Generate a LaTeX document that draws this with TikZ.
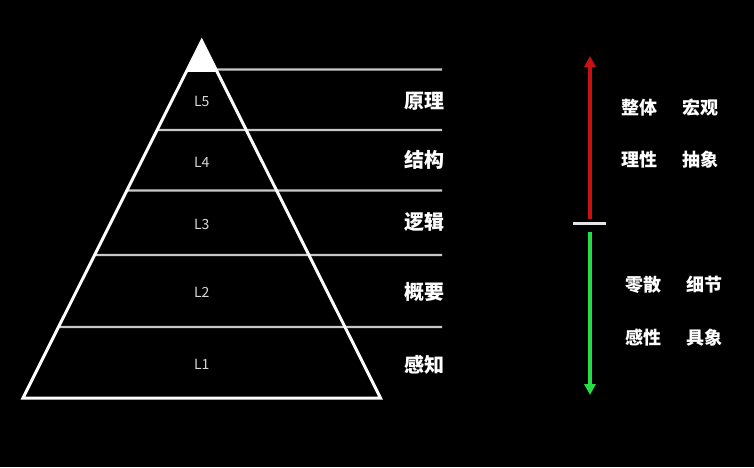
\documentclass[tikz,border=0pt]{standalone}
\usepackage{fontspec}
\newfontfamily\cjk{Noto Sans CJK SC}
\usetikzlibrary{calc,arrows.meta}
\definecolor{arrred}{RGB}{200,18,18}
\definecolor{arrgreen}{RGB}{40,220,70}
\definecolor{linegray}{RGB}{200,200,200}
\tikzset{
  edge/.style={draw=white,line width=3pt,line join=miter},
  divider/.style={draw=linegray,line width=2.2pt},
  lvl/.style={text=white!85!black,font=\cjk\fontsize{14}{14}\selectfont,inner sep=0pt},
  tag/.style={text=white,font=\cjk\bfseries\fontsize{20}{20}\selectfont,inner sep=0pt,anchor=east},
  word/.style={text=white,font=\cjk\bfseries\fontsize{18}{18}\selectfont,inner sep=0pt,anchor=west},
}
\begin{document}
\begin{tikzpicture}[x=1pt,y=-1pt]
\fill[black] (0,0) rectangle (754,467);
\useasboundingbox (0,0) rectangle (754,467);
% pyramid
\coordinate (apex) at (201.7,41);
\coordinate (bl) at (23,398);
\coordinate (br) at (380.5,398);
\coordinate (capl) at ($(apex)!0.0868!(bl)$);
\coordinate (capr) at ($(apex)!0.0868!(br)$);
\fill[white] (apex) -- (capl) -- (capr) -- cycle;
% dividers
\coordinate (d5) at ($(apex)!0.0798!(br)$);
\coordinate (e5) at (442,69.5);
\coordinate (d4) at ($(apex)!0.2493!(bl)$);
\coordinate (e4) at (442,130);
\coordinate (d3) at ($(apex)!0.4188!(bl)$);
\coordinate (e3) at (442,190.5);
\coordinate (d2) at ($(apex)!0.5994!(bl)$);
\coordinate (e2) at (442,255);
\coordinate (d1) at ($(apex)!0.8011!(bl)$);
\coordinate (e1) at (442,327);
\draw[divider] (d5) -- (e5);
\draw[divider] (d4) -- (e4);
\draw[divider] (d3) -- (e3);
\draw[divider] (d2) -- (e2);
\draw[divider] (d1) -- (e1);
\draw[edge] (apex) -- (bl) -- (br) -- cycle;
% level labels
\node[lvl] (l5) at (201.7,101) {L5};
\node[lvl] (l4) at (201.7,162.7) {L4};
\node[lvl] (l3) at (201.7,224) {L3};
\node[lvl] (l2) at (201.7,292) {L2};
\node[lvl] (l1) at (201.7,364) {L1};
% names
\node[tag] (t5) at (445,101) {原理};
\node[tag] (t4) at (445,160) {结构};
\node[tag] (t3) at (445,221.7) {逻辑};
\node[tag] (t2) at (445,292) {概要};
\node[tag] (t1) at (445,365) {感知};
% scale arrows
\coordinate (top) at (590,56);
\coordinate (bot) at (590,395);
\coordinate (redstart) at (590,219);
\coordinate (greenstart) at (590,232);
\coordinate (tickl) at (573,223.5);
\coordinate (tickr) at (606,223.5);
\draw[arrred,line width=3.2pt,-{Triangle[length=11pt,width=11pt]}] (redstart) -- (top);
\draw[arrgreen,line width=3.2pt,-{Triangle[length=11pt,width=11pt]}] (greenstart) -- (bot);
\draw[draw=white!90!black,line width=2.5pt] (tickl) -- (tickr);
% words
\node[word] (w1) at (621,108) {整体};
\node[word] (w2) at (682,108) {宏观};
\node[word] (w3) at (621,160) {理性};
\node[word] (w4) at (682,160) {抽象};
\node[word] (w5) at (625,285) {零散};
\node[word] (w6) at (686,285) {细节};
\node[word] (w7) at (625,338) {感性};
\node[word] (w8) at (686,338) {具象};
\end{tikzpicture}
\end{document}
